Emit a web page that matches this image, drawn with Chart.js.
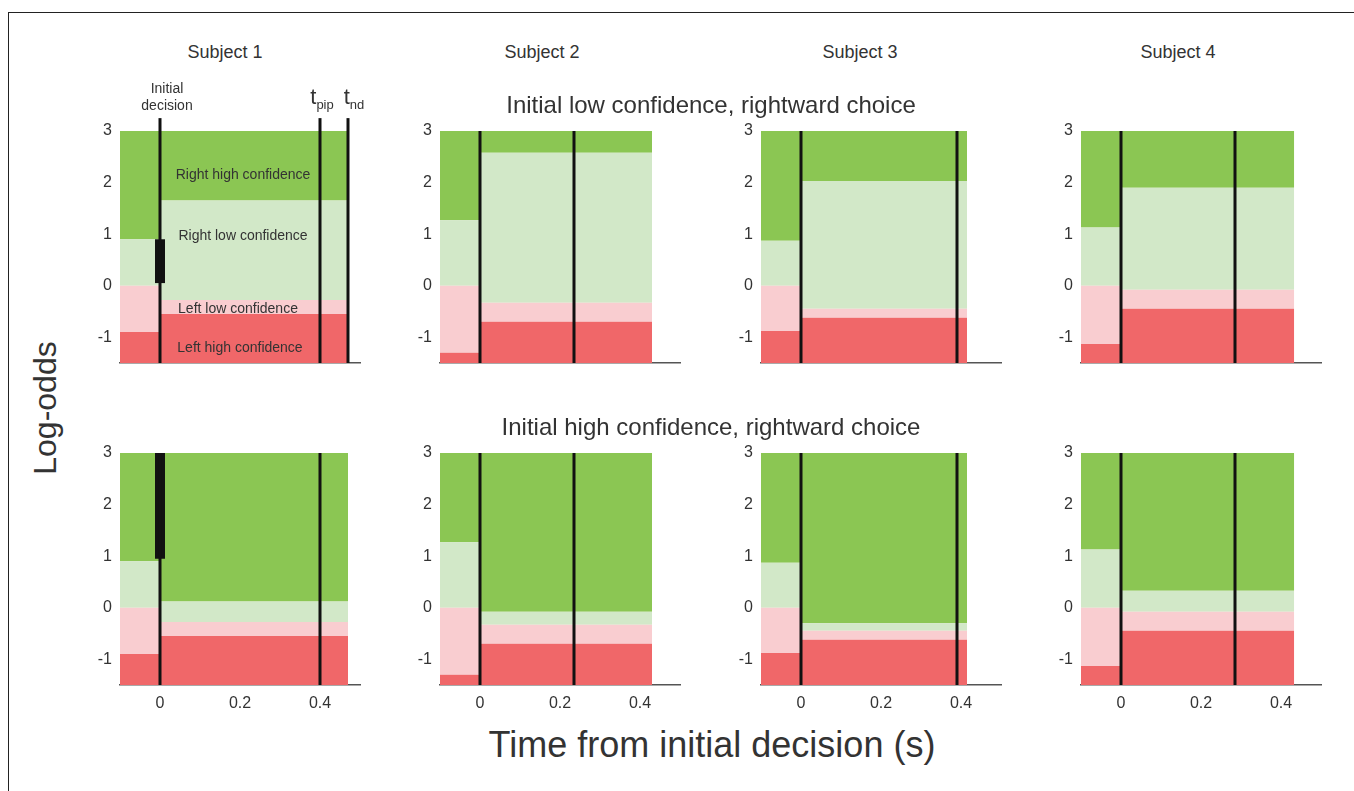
<!DOCTYPE html>
<html><head><meta charset="utf-8">
<script src="https://cdn.jsdelivr.net/npm/chart.js@4/dist/chart.umd.min.js"></script>
<style>
body{margin:0;background:#fff;font-family:"Liberation Sans",Arial,sans-serif;color:#333;}
#frame{position:absolute;left:8px;top:12px;width:1400px;height:800px;border-left:1px solid #222;border-top:1px solid #222;}
canvas{position:absolute;}
.t{position:absolute;white-space:nowrap;transform:translate(-50%,-50%);}
</style></head><body>
<div id="frame"></div>
<div id="wrap"></div>
<script>
// subjects
const subjects = ['Subject 1', 'Subject 2', 'Subject 3', 'Subject 4'];
const xTicks = [0, 0.2, 0.4];
// boundaries before decision (top of red, top of pink, top of light green)
const preRed = [-0.9, -1.3, -0.88, -1.13];
const prePink = [0, 0, 0, 0];
const preLight = [0.9, 1.27, 0.87, 1.13];
// after decision, low confidence row
const lowRed = [-0.55, -0.7, -0.62, -0.45];
const lowPink = [-0.28, -0.33, -0.45, -0.08];
const lowLight = [1.65, 2.58, 2.03, 1.9];
// after decision, high confidence row
const highRed = [-0.55, -0.7, -0.62, -0.45];
const highPink = [-0.28, -0.33, -0.45, -0.08];
const highLight = [0.12, -0.08, -0.3, 0.33];
// end of data (t_nd) and t_pip
const tEnd = [0.47, 0.43, 0.415, 0.433];
const tPip = [0.4, 0.235, 0.39, 0.285];
// black bar (subject 1)
const barLow = [0.05, 0.9];
const barHigh = [0.95, 3];

const colors = ['#f06769', '#f9cdd0', '#d2e8c8', '#8bc653'];
const colLeft = [120, 440, 761, 1081];
const rowTop = [131, 453];

function boundary(pre, post, end) {
  return [{x: -0.1, y: pre}, {x: 0, y: pre}, {x: 0, y: post}, {x: end, y: post}];
}
function vline(x, y0, y1, w) {
  return {type: 'line', data: [{x: x, y: y0}, {x: x, y: y1}], borderColor: '#111', order: 0,
    borderWidth: w, pointRadius: 0, fill: false, clip: false, borderCapStyle: 'butt'};
}

function makePanel(s, row) {
  const c = document.createElement('canvas');
  const W = 30 + 240 + 20, H = 20 + 232 + 30;
  c.width = W; c.height = H;
  c.style.left = (colLeft[s] - 30) + 'px';
  c.style.top = (rowTop[row] - 20) + 'px';
  document.getElementById('wrap').appendChild(c);
  const red = row ? highRed : lowRed, pink = row ? highPink : lowPink, light = row ? highLight : lowLight;
  const end = tEnd[s];
  const ds = [];
  const lv = [[preRed[s], red[s]], [prePink[s], pink[s]], [preLight[s], light[s]], [3, 3]];
  lv.forEach((v, i) => {
    ds.push({type: 'line', data: boundary(v[0], v[1], end), borderWidth: 0, pointRadius: 0, order: 1,
      backgroundColor: colors[i], fill: i === 0 ? {value: -1.5} : '-1'});
  });
  const top = (row === 0 && s === 0) ? 3.25 : 3;
  ds.push(vline(0, -1.5, top, 3));
  ds.push(vline(tPip[s], -1.5, top, 3));
  if (s === 0) {
    if (row === 0) ds.push(vline(end, -1.5, top, 3));
    const b = row ? barHigh : barLow;
    ds.push(vline(0, b[0], b[1], 10));
  }
  new Chart(c, {
    type: 'scatter',
    data: {datasets: ds},
    options: {
      responsive: false, animation: false,
      layout: {padding: {top: 20, right: 20, left: 0, bottom: 0}},
      plugins: {legend: {display: false}, tooltip: {enabled: false}},
      scales: {
        x: {type: 'linear', min: -0.1, max: 0.5,
          afterBuildTicks: a => { a.ticks = xTicks.map(v => ({value: v})); },
          afterFit: a => { a.height = 30; },
          grid: {display: false, drawTicks: false},
          border: {color: '#555', width: 1.5},
          ticks: {display: row === 1, color: '#333', font: {size: 16, family: 'Liberation Sans'}, padding: 9}},
        y: {min: -1.5, max: 3,
          afterBuildTicks: a => { a.ticks = [-1, 0, 1, 2, 3].map(v => ({value: v})); },
          afterFit: a => { a.width = 30; },
          grid: {display: false, drawTicks: false},
          border: {display: false},
          ticks: {color: '#333', font: {size: 16, family: 'Liberation Sans'}, padding: 8}}
      }
    }
  });
}
for (let r = 0; r < 2; r++) for (let s = 0; s < 4; s++) makePanel(s, r);

function text(str, x, y, size, extra) {
  const d = document.createElement('div');
  d.className = 't'; d.innerHTML = str;
  d.style.left = x + 'px'; d.style.top = y + 'px'; d.style.fontSize = size + 'px';
  if (extra) d.style.cssText += extra;
  document.body.appendChild(d);
}
const subjX = [225, 542, 860, 1178];
subjects.forEach((s, i) => text(s, subjX[i], 52, 18));
text('Initial low confidence, rightward choice', 711, 105, 24);
text('Initial high confidence, rightward choice', 711, 427, 24);
text('Log-odds', 45, 408, 32, 'transform:translate(-50%,-50%) rotate(-90deg);');
text('Time from initial decision (s)', 712, 745, 36);
text('Right high confidence', 243, 174, 14);
text('Right low confidence', 243, 235, 14);
text('Left low confidence', 238, 308, 14);
text('Left high confidence', 240, 347, 14);
text('Initial<br>decision', 167, 97, 14, 'text-align:center;line-height:17px;');
text('t<sub style="font-size:13px">pip</sub>', 322, 98, 22);
text('t<sub style="font-size:13px">nd</sub>', 354, 98, 22);
</script>
</body></html>
